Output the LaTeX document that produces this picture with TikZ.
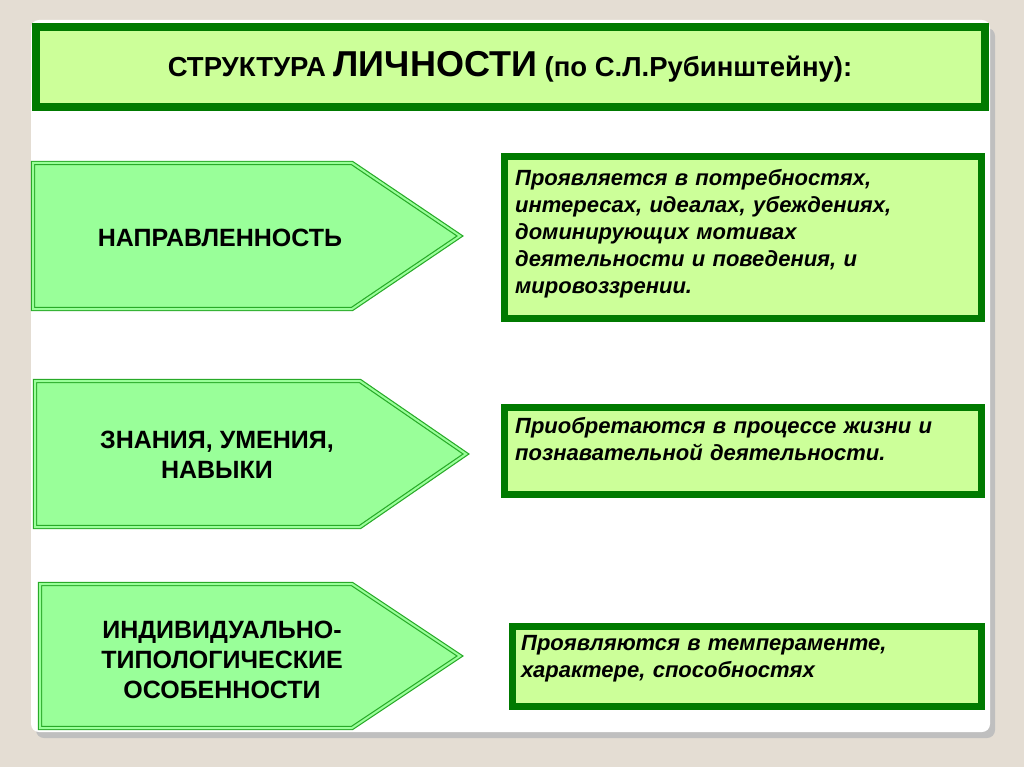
\documentclass[tikz,border=0pt]{standalone}
\usepackage{fontspec}
\setmainfont{Liberation Sans}
\begin{document}
\begin{tikzpicture}[x=1pt,y=-1pt,
  infobox/.style={line width=7pt, fill={rgb,255:red,204;green,255;blue,153}, draw={rgb,255:red,0;green,122;blue,0}},
  arrowshape/.style={draw={rgb,255:red,40;green,170;blue,40}, double={rgb,255:red,153;green,255;blue,153}, double distance=2pt, line width=1.2pt, fill={rgb,255:red,153;green,255;blue,153}},
  atext/.style={font=\bfseries\fontsize{25}{30}\selectfont, align=center},
  btext/.style={font=\bfseries\itshape\fontsize{22}{27}\selectfont, align=left, anchor=north west, text width=460pt, inner sep=0pt}]
\fill[fill={rgb,255:red,228;green,221;blue,211}] (0,0) rectangle (1024,767);
\useasboundingbox (0,0) rectangle (1024,767);
\fill[black!25, rounded corners=8pt] (36,28) rectangle (995,738);
\fill[white, rounded corners=8pt] (31,20) rectangle (990,732);
% title
\node[draw={rgb,255:red,0;green,122;blue,0}, line width=8pt, fill={rgb,255:red,204;green,255;blue,153}, minimum width=949pt, minimum height=80pt, inner sep=0pt] (title) at (510,67)
 {\bfseries\fontsize{27.5}{30}\selectfont СТРУКТУРА {\fontsize{36}{38}\selectfont ЛИЧНОСТИ} (по С.Л.Рубинштейну):};
% arrows
\draw[arrowshape] (33,163) -- (352,163) -- (460,236) -- (352,309) -- (33,309) -- cycle;
\node[atext] (a1) at (220,238) {НАПРАВЛЕННОСТЬ};
\draw[arrowshape] (35,381) -- (360,381) -- (466,454) -- (360,527) -- (35,527) -- cycle;
\node[atext] (a2) at (217,455) {ЗНАНИЯ, УМЕНИЯ,\\НАВЫКИ};
\draw[arrowshape] (40,584) -- (352,584) -- (460,656) -- (352,728) -- (40,728) -- cycle;
\node[atext, font=\bfseries\fontsize{25}{30}\selectfont] (a3) at (222,660) {ИНДИВИДУАЛЬНО-\\ТИПОЛОГИЧЕСКИЕ\\ОСОБЕННОСТИ};
% boxes
\draw[infobox] (504,157) rectangle (981,318);
\node[btext] (b1) at (515,169) {Проявляется в потребностях,\\интересах, идеалах, убеждениях,\\доминирующих мотивах\\деятельности и поведения, и\\мировоззрении.};
\draw[infobox] (504,407) rectangle (981,494);
\node[btext] (b2) at (515,417) {Приобретаются в процессе жизни и\\познавательной деятельности.};
\draw[infobox] (512,626) rectangle (981,706);
\node[btext] (b3) at (521,635) {Проявляются в темпераменте,\\характере, способностях};
\end{tikzpicture}
\end{document}
